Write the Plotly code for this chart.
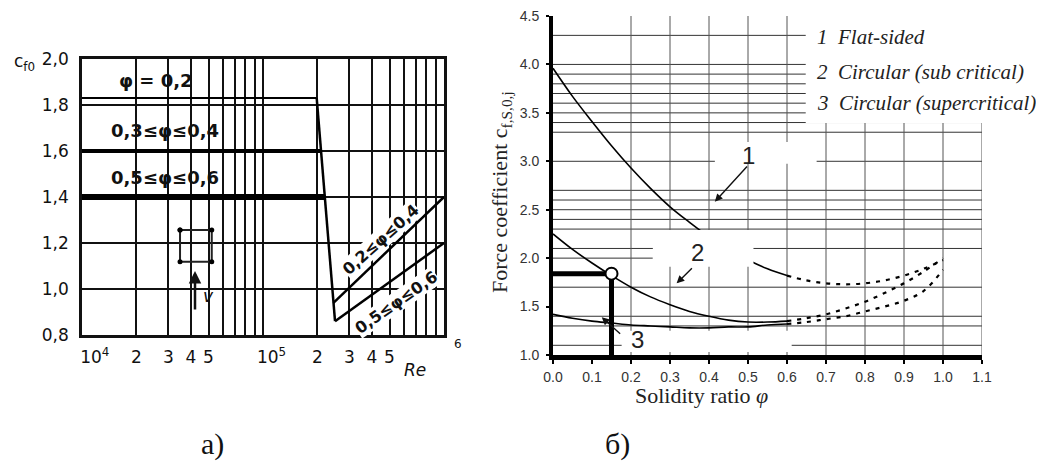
import numpy as np
import plotly.graph_objects as go

# The page shows the figure with an 8 px body margin, so the figure is 8 px smaller
# and every reference pixel position is shifted by 8 px.
OFF = 8
W, H = 1044 - OFF, 461 - OFF
def px(x):
    return (x - OFF) / W
def py(y):
    return 1 - (y - OFF) / H

# ---------------- Chart (а): c_f0 versus Re ----------------
re_tickvals = [1e4, 2e4, 3e4, 4e4, 5e4, 1e5, 2e5, 3e5, 4e5, 5e5]
re_ticktext = ["\u2003\u200210<sup>4</sup>", "2", "3", "4", "5",
               "\u200310<sup>5</sup>", "2", "3", "4", "5"]
re_minorvals = [6e4, 7e4, 8e4, 9e4, 6e5, 7e5, 8e5, 9e5]
cf0_tickvals = [0.8, 1.0, 1.2, 1.4, 1.6, 1.8, 2.0]
cf0_ticktext = ["0,8", "1,0", "1,2", "1,4", "1,6", "1,8", "2,0"]

phi02_re = [1e4, 1.98e5]
phi02_cf = [1.83, 1.83]
phi34_re = [1e4, 2.09e5]
phi34_cf = [1.60, 1.60]
phi56_re = [1e4, 2.19e5]
phi56_cf = [1.40, 1.40]
drop_re = [1.98e5, 2.50e5]
drop_cf = [1.83, 0.86]
band_upper_re = [2.45e5, 1e6]
band_upper_cf = [0.94, 1.40]
band_lower_re = [2.50e5, 1e6]
band_lower_cf = [0.86, 1.20]
square_re = [3.48e4, 5.21e4, 5.21e4, 3.48e4, 3.48e4]
square_cf = [1.257, 1.257, 1.119, 1.119, 1.257]

# blank (label) areas where the grid is interrupted
blank_re0 = [1.02e4, 1.02e4, 1.02e4, 2.48e4]
blank_re1 = [5.75e4, 5.75e4, 5.75e4, 6.6e4]
blank_cf0 = [1.848, 1.617, 1.417, 0.86]
blank_cf1 = [1.982, 1.783, 1.583, 1.29]

# ---------------- Chart (б): force coefficient versus solidity ----------------
phi_solid = [0.0, 0.05, 0.10, 0.15, 0.20, 0.25, 0.30, 0.35, 0.40, 0.45, 0.50, 0.55, 0.60]
flat_solid = [3.96, 3.67, 3.41, 3.16, 2.93, 2.72, 2.53, 2.37, 2.22, 2.09, 1.98, 1.89, 1.82]
sub_solid = [2.25, 2.09, 1.95, 1.82, 1.70, 1.60, 1.52, 1.45, 1.40, 1.36, 1.34, 1.34, 1.35]
super_solid = [1.42, 1.38, 1.35, 1.33, 1.31, 1.30, 1.29, 1.28, 1.28, 1.29, 1.29, 1.31, 1.32]
phi_dash = [0.60, 0.65, 0.70, 0.75, 0.80, 0.85, 0.90, 0.95, 1.00]
flat_dash = [1.82, 1.77, 1.74, 1.73, 1.74, 1.77, 1.82, 1.89, 1.98]
sub_dash = [1.35, 1.38, 1.42, 1.48, 1.55, 1.64, 1.74, 1.86, 2.00]
super_dash = [1.32, 1.34, 1.37, 1.40, 1.45, 1.50, 1.56, 1.66, 1.88]

read_phi = 0.15
read_cf = 1.84

grid_h_vals = [1.1, 1.3, 1.4, 1.7, 2.0, 2.1, 2.3, 2.4, 2.5, 2.6, 2.7, 3.0, 3.3,
               3.4, 3.5, 3.6, 3.7, 3.8, 3.9, 4.0, 4.3]
grid_h_end = [1.1, 1.1, 1.1, 1.1, 0.256, 1.1, 1.1, 1.1, 1.1, 1.1, 1.1, 1.1, 1.1,
              1.1, 1.1, 1.1, 1.1, 1.1, 1.1, 1.1, 1.1]
grid_v_vals = [0.2, 0.3, 0.4, 0.5, 0.6, 0.7, 0.8, 0.9, 1.0, 1.1]

# white label boxes: "1", "2", "3", legend
box_x0 = [0.415, 0.256, 0.176, 0.648]
box_x1 = [0.676, 0.514, 0.612, 1.2]
box_y0 = [2.975, 1.912, 1.03, 3.395]
box_y1 = [3.20, 2.29, 1.25, 4.6]

legend_items = ["1\u2002Flat-sided", "2\u2002Circular (sub critical)", "3\u2002Circular (supercritical)"]

fig = go.Figure()

# ---- traces chart (а)
blk = "black"
fig.add_trace(go.Scatter(x=phi02_re, y=phi02_cf, mode="lines", line=dict(color=blk, width=2), xaxis="x", yaxis="y"))
fig.add_trace(go.Scatter(x=phi34_re, y=phi34_cf, mode="lines", line=dict(color=blk, width=4), xaxis="x", yaxis="y"))
fig.add_trace(go.Scatter(x=phi56_re, y=phi56_cf, mode="lines", line=dict(color=blk, width=6), xaxis="x", yaxis="y"))
fig.add_trace(go.Scatter(x=drop_re, y=drop_cf, mode="lines", line=dict(color=blk, width=2.5), xaxis="x", yaxis="y"))
fig.add_trace(go.Scatter(x=band_upper_re, y=band_upper_cf, mode="lines", line=dict(color=blk, width=2.5), xaxis="x", yaxis="y"))
fig.add_trace(go.Scatter(x=band_lower_re, y=band_lower_cf, mode="lines", line=dict(color=blk, width=2.5), xaxis="x", yaxis="y"))
fig.add_trace(go.Scatter(x=square_re, y=square_cf, mode="lines+markers", line=dict(color="#222", width=2),
                         marker=dict(size=5, color=blk), xaxis="x", yaxis="y"))

# ---- traces chart (б)
for xs, ys in [(phi_solid, flat_solid), (phi_solid, sub_solid), (phi_solid, super_solid)]:
    fig.add_trace(go.Scatter(x=xs, y=ys, mode="lines", line=dict(color=blk, width=1.6, shape="spline"),
                             xaxis="x2", yaxis="y2"))
for xs, ys in [(phi_dash, flat_dash), (phi_dash, sub_dash), (phi_dash, super_dash)]:
    fig.add_trace(go.Scatter(x=xs, y=ys, mode="lines", line=dict(color=blk, width=2.2, dash="4px,6px", shape="spline"),
                             xaxis="x2", yaxis="y2"))
fig.add_trace(go.Scatter(x=[0, read_phi, read_phi], y=[read_cf, read_cf, 1.0], mode="lines",
                         line=dict(color=blk, width=5), xaxis="x2", yaxis="y2"))
fig.add_trace(go.Scatter(x=[read_phi], y=[read_cf], mode="markers",
                         marker=dict(size=12, color="white", line=dict(color=blk, width=2)),
                         xaxis="x2", yaxis="y2"))

shapes = []
# log axis: shape positions are given as log10 of the Reynolds number
for a, b, c, d in zip(blank_re0, blank_re1, blank_cf0, blank_cf1):
    shapes.append(dict(type="rect", xref="x", yref="y", x0=float(np.log10(a)), x1=float(np.log10(b)), y0=c, y1=d,
                       fillcolor="white", line=dict(width=0), layer="between"))
for v, e in zip(grid_h_vals, grid_h_end):
    shapes.append(dict(type="line", xref="x2", yref="y2", x0=0, x1=e, y0=v, y1=v,
                       line=dict(color="#333", width=1), layer="below"))
for v in grid_v_vals:
    shapes.append(dict(type="line", xref="x2", yref="y2", x0=v, x1=v, y0=1.0, y1=4.5,
                       line=dict(color="#555", width=1), layer="below"))
for a, b, c, d in zip(box_x0, box_x1, box_y0, box_y1):
    shapes.append(dict(type="rect", xref="x2", yref="y2", x0=a, x1=b, y0=c, y1=d,
                       fillcolor="white", line=dict(width=0), layer="above"))

sans = "DejaVu Sans"
ann = []
def lab(x, y, text, size=17, family=sans, color="#111", angle=0, bg=None, xanchor="center", bold=False):
    d = dict(x=px(x), y=py(y), xref="paper", yref="paper", text=text, showarrow=False,
             font=dict(family=family, size=size, color=color, weight="bold" if bold else "normal"),
             textangle=angle, xanchor=xanchor, yanchor="middle")
    if bg:
        d["bgcolor"] = bg
        d["borderpad"] = 0
    ann.append(d)

# chart (а) labels
lab(24, 63, "c<sub>f0</sub>", size=17)
lab(156, 80, "\u03c6 = 0,2", size=18, bold=True)
lab(165, 130, "0,3\u2264\u03c6\u22640,4", size=18, bold=True)
lab(165, 177, "0,5\u2264\u03c6\u22640,6", size=18, bold=True)
lab(381, 240, "0,2\u2264\u03c6\u22640,4", size=16, bold=True, angle=-42, bg="white")
lab(396, 302, "0,5\u2264\u03c6\u22640,6", size=16, bold=True, angle=-35, bg="white")
lab(208, 296, "<i>v</i>", size=17)
lab(415, 370, "<i>Re</i>", size=17)
lab(458, 344, "6", size=12)
ann.append(dict(x=px(195), y=py(271), xref="paper", yref="paper", ax=0, ay=40, text="",
                showarrow=True, arrowhead=2, arrowsize=1, arrowwidth=2.5, arrowcolor="#111"))

# chart (б) labels
num_font = dict(family="Liberation Sans", size=24, color="#222")
for t, x, y in [("1", 0.50, 3.06), ("2", 0.37, 2.06), ("3", 0.217, 1.16)]:
    ann.append(dict(x=x, y=y, xref="x2", yref="y2", text=t, showarrow=False, font=num_font))
for hx, hy, tx, ty in [(0.415, 2.583, 0.501, 2.962), (0.317, 1.74, 0.36, 1.91), (0.125, 1.39, 0.176, 1.205)]:
    ann.append(dict(x=hx, y=hy, ax=tx, ay=ty, xref="x2", yref="y2", axref="x2", ayref="y2", text="",
                    showarrow=True, arrowhead=2, arrowsize=1.1, arrowwidth=1.4, arrowcolor="#111"))
for t, y in zip(legend_items, [36.7, 71.7, 103.3]):
    lab(815, y, "<i>" + t + "</i>", size=21, family="Liberation Serif", color="#222", xanchor="left")
lab(501, 192, "Force coefficient c<sub>f,S,0,j</sub>", size=22, family="Liberation Serif", color="#222", angle=-90)
lab(701, 395, "Solidity ratio <i>\u03c6</i>", size=22, family="Liberation Serif", color="#222")

# captions
lab(212, 444, "а)", size=30, family="Liberation Serif", color="#111")
lab(617, 444, "б)", size=30, family="Liberation Serif", color="#111")

fig.update_layout(
    width=W, height=H, margin=dict(l=0, r=0, t=0, b=0, autoexpand=False),
    paper_bgcolor="white", plot_bgcolor="rgba(0,0,0,0)", showlegend=False,
    shapes=shapes, annotations=ann,
    xaxis=dict(type="log", domain=[px(82), px(444)], range=[4, 6], anchor="y", automargin=False,
               tickmode="array", tickvals=re_tickvals, ticktext=re_ticktext,
               showgrid=True, gridcolor="#111", gridwidth=2,
               minor=dict(tickmode="array", tickvals=re_minorvals, showgrid=True, gridcolor="#111", gridwidth=2, ticks=""),
               showline=True, linecolor="#111", linewidth=2.5, mirror=True,
               ticks="outside", ticklen=5, tickcolor="white", ticklabeloverflow="allow",
               tickfont=dict(family=sans, size=17, color="#111"), zeroline=False),
    yaxis=dict(domain=[py(335), py(59)], range=[0.8, 2.0], anchor="x", automargin=False,
               tickmode="array", tickvals=cf0_tickvals, ticktext=cf0_ticktext,
               showgrid=True, gridcolor="#111", gridwidth=2,
               showline=True, linecolor="#111", linewidth=2.5, mirror=True,
               ticks="outside", ticklen=7, tickcolor="white", ticklabeloverflow="allow",
               tickfont=dict(family=sans, size=17, color="#111"), zeroline=False),
    xaxis2=dict(domain=[px(553), px(982)], range=[0, 1.1], anchor="y2", automargin=False,
                tick0=0, dtick=0.1, tickformat=".1f", showgrid=False,
                showline=True, linecolor="black", linewidth=5,
                ticks="outside", ticklen=4, tickwidth=2, tickcolor="black",
                ticklabelstandoff=1, ticklabeloverflow="allow",
                tickfont=dict(family="Liberation Sans", size=14, color="#333"), zeroline=False),
    yaxis2=dict(domain=[py(355), py(16)], range=[1.0, 4.5], anchor="x2", automargin=False,
                tick0=1.0, dtick=0.5, tickformat=".1f", showgrid=False,
                showline=True, linecolor="black", linewidth=4,
                ticks="outside", ticklen=3, tickwidth=1.5, tickcolor="black",
                ticklabelstandoff=4, ticklabeloverflow="allow",
                tickfont=dict(family="Liberation Sans", size=14, color="#333"), zeroline=False),
)

fig.write_html("out.html")
